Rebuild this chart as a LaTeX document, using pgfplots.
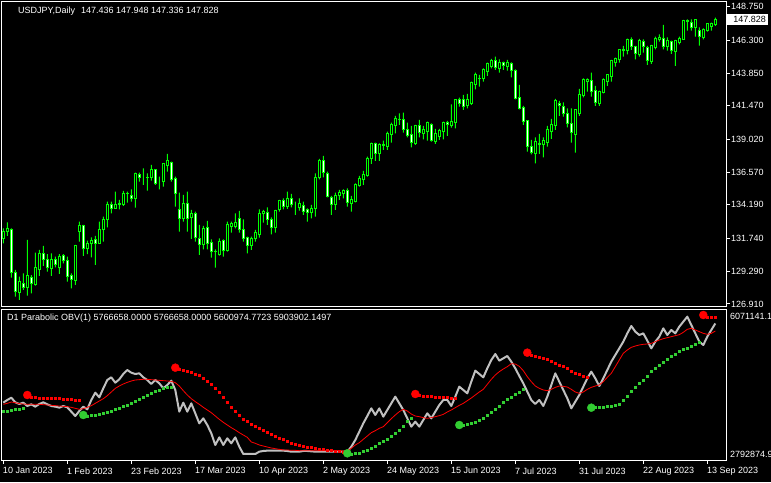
\documentclass[border=0pt]{standalone}
\usepackage{pgfplots}
\pgfplotsset{compat=1.18}
\usepackage{pgfplotstable}
\usepackage{fontspec}
\setmainfont{Liberation Sans}
\definecolor{cg}{RGB}{0,255,0}
\definecolor{obvgray}{RGB}{192,192,192}
\definecolor{sarred}{RGB}{255,0,0}
\definecolor{sargreen}{RGB}{50,205,50}

\pgfplotstableread{
i o h l c
0 131.731 132.465 131.363 132.220
1 132.220 132.906 131.902 132.465
2 132.392 132.465 128.841 129.208
3 129.232 129.404 127.445 127.812
4 127.738 128.914 127.200 128.547
5 128.424 129.159 127.934 128.106
6 128.106 131.608 127.518 128.963
7 128.865 129.036 127.689 128.375
8 128.302 130.677 128.253 129.600
9 129.453 130.873 128.963 130.628
10 130.628 131.167 129.698 130.188
11 130.188 130.579 129.281 129.575
12 129.477 130.628 128.963 130.188
13 130.188 130.384 129.600 129.771
14 129.575 130.579 129.110 130.384
15 130.433 130.579 129.894 130.090
16 130.065 130.384 128.547 128.914
17 128.963 129.159 128.057 128.669
18 128.620 131.241 128.302 131.167
19 132.220 132.955 131.486 132.637
20 132.637 132.710 130.433 130.996
21 130.996 131.559 130.579 131.363
22 131.363 131.804 130.335 131.559
23 131.608 131.902 129.771 131.363
24 131.363 132.955 131.363 132.392
25 132.392 133.323 131.486 133.078
26 133.078 134.425 132.539 134.180
27 134.180 134.425 133.568 133.886
28 133.886 135.159 133.886 134.180
29 134.180 134.547 133.861 134.253
30 134.180 135.208 134.106 134.988
31 134.988 135.159 134.351 135.037
32 134.841 135.331 134.425 134.645
33 134.621 136.556 133.984 136.458
34 136.384 136.556 135.894 136.213
35 136.213 136.874 135.649 136.213
36 136.213 136.507 135.233 136.190
37 136.213 137.119 135.968 136.751
38 136.751 136.800 135.649 135.723
39 135.894 136.262 135.331 135.894
40 135.894 137.241 135.527 137.192
41 137.070 137.927 136.629 137.413
42 137.315 137.364 135.894 136.017
43 136.139 136.262 134.057 135.037
44 133.861 135.086 132.220 133.151
45 133.151 134.915 132.955 134.253
46 134.254 135.160 132.221 133.201
47 133.250 133.813 131.682 133.568
48 133.568 133.690 131.486 131.805
49 131.731 132.711 130.506 131.241
50 131.241 132.637 130.923 132.466
51 132.515 133.005 130.923 131.315
52 131.413 131.658 130.311 130.751
53 130.751 130.923 129.576 130.740
54 130.555 131.731 130.457 131.486
55 131.535 131.658 130.384 130.800
56 130.800 132.956 130.751 132.711
57 132.588 132.956 132.147 132.784
58 132.588 133.568 132.466 132.882
59 133.201 133.739 132.147 132.392
60 132.392 133.127 131.486 131.731
61 131.780 131.854 130.629 131.192
62 131.192 131.853 130.874 131.682
63 131.682 132.343 131.486 132.172
64 132.025 133.862 131.780 133.568
65 133.519 133.813 132.882 133.690
66 133.641 134.009 132.711 133.127
67 133.127 133.274 132.025 132.515
68 132.515 133.813 132.147 133.739
69 133.862 134.548 133.690 134.474
70 134.474 134.670 133.862 134.058
71 134.058 135.160 133.886 134.670
72 134.670 134.988 134.009 134.229
73 134.131 134.425 133.445 134.131
74 134.009 134.670 133.764 134.254
75 134.131 134.425 133.445 133.690
76 133.813 133.935 132.956 133.617
77 133.617 134.180 133.201 133.935
78 133.935 136.507 133.323 136.189
79 136.189 137.560 136.066 137.413
80 137.438 137.781 136.213 136.556
81 136.507 136.629 134.744 134.793
82 134.719 134.842 133.445 134.229
83 134.229 135.086 133.813 134.842
84 134.842 135.282 134.548 135.111
85 134.988 135.331 134.670 135.209
86 135.209 135.405 134.058 134.376
87 134.303 134.842 133.690 134.548
88 134.425 135.772 134.376 135.699
89 135.601 136.311 135.527 136.091
90 136.066 136.678 135.650 136.385
91 136.336 137.732 136.262 137.609
92 137.609 138.760 137.193 138.711
93 138.711 138.760 137.413 137.976
94 137.976 138.711 137.413 138.589
95 138.589 138.907 138.221 138.540
96 138.466 139.568 138.221 139.446
97 139.324 140.230 138.760 140.058
98 139.985 140.720 139.446 140.548
99 140.426 140.916 140.058 140.450
100 140.426 140.965 139.495 139.691
101 139.740 140.230 139.152 139.250
102 139.324 139.985 138.417 138.760
103 138.711 140.058 138.589 139.985
104 139.985 140.426 139.152 139.495
105 139.446 139.985 139.005 139.691
106 139.568 140.303 138.907 140.230
107 140.058 140.181 138.834 138.907
108 138.834 139.764 138.662 139.397
109 139.201 139.764 138.956 139.617
110 139.568 140.303 139.005 140.230
111 140.230 140.352 139.250 140.058
112 139.985 141.577 139.862 140.303
113 140.230 141.944 139.813 141.895
114 141.944 142.067 141.405 141.601
115 141.895 142.263 141.160 141.405
116 141.454 142.336 141.283 141.895
117 141.650 143.242 141.528 143.169
118 143.046 143.904 142.679 143.732
119 143.487 143.732 142.875 143.490
120 143.487 144.222 143.242 144.099
121 143.977 144.638 143.659 144.540
122 144.344 144.908 144.222 144.761
123 144.761 145.079 144.099 144.295
124 144.222 144.883 143.904 144.663
125 144.663 144.712 144.099 144.418
126 144.344 144.834 144.050 144.663
127 144.540 144.663 143.561 144.050
128 144.050 144.148 141.944 142.018
129 142.091 142.997 141.209 141.283
130 141.332 141.454 140.058 140.303
131 140.352 140.377 138.099 138.466
132 138.466 138.956 137.903 138.025
133 137.976 139.152 137.242 138.834
134 138.638 139.397 137.927 138.711
135 138.638 139.152 137.683 138.883
136 138.760 139.985 138.466 139.691
137 139.568 140.499 139.030 140.058
138 140.009 141.969 139.691 141.822
139 141.650 141.822 140.720 141.479
140 141.405 141.724 140.671 140.866
141 140.915 141.283 139.887 140.181
142 140.181 141.283 138.760 139.495
143 139.373 141.209 138.025 141.160
144 140.915 142.703 140.720 142.263
145 142.189 143.487 142.091 143.365
146 143.242 143.487 142.507 143.365
147 143.291 143.904 142.140 142.507
148 142.556 142.924 141.454 141.699
149 141.601 142.581 141.454 142.507
150 142.434 143.487 142.385 143.365
151 143.242 143.732 142.924 143.732
152 143.610 144.834 143.242 144.761
153 144.638 145.006 144.344 144.957
154 144.883 145.569 144.638 145.569
155 145.569 145.863 145.079 145.550
156 145.520 146.402 145.251 146.353
157 146.304 146.500 145.569 145.814
158 145.814 145.863 144.883 145.275
159 145.251 146.377 145.079 146.230
160 146.181 146.353 145.373 145.814
161 145.740 145.863 144.467 144.785
162 144.712 145.936 144.540 145.863
163 145.765 146.549 145.618 146.426
164 146.304 146.720 146.181 146.475
165 146.426 147.406 145.618 145.814
166 145.814 146.500 145.520 146.230
167 146.181 146.255 145.275 145.520
168 145.446 146.304 144.393 146.230
169 146.108 146.549 145.985 146.426
170 146.304 147.773 146.304 147.700
171 147.700 147.822 146.989 147.680
172 147.602 147.822 146.989 147.210
173 147.210 147.822 146.549 147.773
174 146.965 147.234 145.887 146.549
175 146.475 147.161 146.353 147.038
176 146.989 147.528 146.916 147.479
177 147.283 147.577 146.989 147.479
178 147.436 147.948 147.336 147.828
}\candles

\pgfplotstableread{
i obv ma
0 4041.8 4005.5
1 4099.9 4027.3
2 4150.7 4056.3
3 4049.0 4041.8
4 4012.7 4020.0
5 4041.8 4012.7
6 3969.2 4005.5
7 4005.5 4005.5
8 3954.6 4005.5
9 4012.7 4005.5
10 4049.0 3998.2
11 4005.5 3991.0
12 3969.2 3983.7
13 3954.6 3976.4
14 3932.8 3969.2
15 3969.2 3961.9
16 3940.1 3954.6
17 3845.7 3940.1
18 3751.3 3918.3
19 3860.2 3896.5
20 3954.6 3911.1
21 3896.5 3940.1
22 4099.9 3976.4
23 4259.6 4027.3
24 4157.9 4078.1
25 4354.0 4128.9
26 4535.5 4194.3
27 4593.6 4274.1
28 4477.4 4354.0
29 4550.0 4404.8
30 4666.2 4448.4
31 4753.3 4484.7
32 4695.2 4513.7
33 4666.2 4535.5
34 4680.7 4542.7
35 4593.6 4550.0
36 4535.5 4550.0
37 4448.4 4542.7
38 4535.5 4535.5
39 4462.9 4528.2
40 4354.0 4521.0
41 4426.6 4513.7
42 4521.0 4506.5
43 4317.7 4477.4
44 3845.7 4404.8
45 4041.8 4303.2
46 3845.7 4208.8
47 4027.3 4128.9
48 3809.4 4063.6
49 3591.6 4005.5
50 3700.5 3940.1
51 3555.3 3882.0
52 3373.8 3823.9
53 3119.7 3751.3
54 3286.7 3678.7
55 3119.7 3613.4
56 3264.9 3555.3
57 3156.0 3497.3
58 3286.7 3446.4
59 3083.4 3388.3
60 2923.6 3337.5
61 2923.6 3286.7
62 2923.6 3185.0
63 2923.6 3156.0
64 2974.5 3119.7
65 2989.0 3097.9
66 2996.3 3076.2
67 2996.3 3054.4
68 2996.3 3039.8
69 2996.3 3025.3
70 2996.3 3010.8
71 2989.0 3010.8
72 2974.5 3003.6
73 2974.5 3003.6
74 2974.5 2996.3
75 2989.0 2996.3
76 2989.0 2996.3
77 2981.8 2996.3
78 2974.5 2996.3
79 2974.5 2996.3
80 2974.5 2996.3
81 2974.5 2996.3
82 2974.5 2996.3
83 2974.5 2996.3
84 2974.5 2996.3
85 2974.5 2989.0
86 2974.5 2996.3
87 3083.4 3047.1
88 3228.6 3119.7
89 3410.1 3170.5
90 3591.6 3243.1
91 3751.3 3315.7
92 3918.3 3388.3
93 3773.1 3431.9
94 3918.3 3482.7
95 3736.8 3519.0
96 3882.0 3606.2
97 4027.3 3693.3
98 4172.5 3773.1
99 4027.3 3845.7
100 3882.0 3896.5
101 3700.5 3860.2
102 3519.0 3794.9
103 3627.9 3751.3
104 3519.0 3736.8
105 3664.2 3715.1
106 3809.4 3700.5
107 3700.5 3715.1
108 3845.7 3736.8
109 3991.0 3758.6
110 4099.9 3787.6
111 4099.9 3838.5
112 3969.2 3882.0
113 4172.5 3932.8
114 4390.3 3983.7
115 4317.7 4027.3
116 4245.1 4085.3
117 4499.2 4143.4
118 4738.8 4208.8
119 4666.2 4274.1
120 4593.6 4332.2
121 4789.6 4441.1
122 4971.1 4550.0
123 5101.8 4644.4
124 4956.6 4717.0
125 5007.5 4775.1
126 5058.3 4825.9
127 4934.8 4891.3
128 4789.6 4884.0
129 4622.6 4833.2
130 4462.9 4738.8
131 4281.4 4608.1
132 4099.9 4499.2
133 4012.7 4404.8
134 4099.9 4354.0
135 3969.2 4317.7
136 4172.5 4303.2
137 4426.6 4332.2
138 4680.7 4375.8
139 4499.2 4404.8
140 4317.7 4397.5
141 4136.2 4383.0
142 3918.3 4332.2
143 4063.6 4274.1
144 4208.8 4245.1
145 4390.3 4274.1
146 4571.8 4332.2
147 4717.0 4375.8
148 4571.8 4404.8
149 4404.8 4426.6
150 4571.8 4499.2
151 4753.3 4593.6
152 4934.8 4680.7
153 5080.1 4825.9
154 5225.3 4971.1
155 5370.5 5116.4
156 5552.0 5189.0
157 5711.7 5247.1
158 5588.3 5276.1
159 5515.7 5297.9
160 5552.0 5312.4
161 5392.3 5319.7
162 5225.3 5334.2
163 5370.5 5370.5
164 5479.4 5406.8
165 5660.9 5435.9
166 5515.7 5457.6
167 5624.6 5479.4
168 5552.0 5501.2
169 5697.2 5523.0
170 5806.1 5573.8
171 5915.0 5639.2
172 5733.5 5660.9
173 5552.0 5624.6
174 5370.5 5588.3
175 5297.9 5552.0
176 5479.4 5530.2
177 5624.6 5552.0
178 5766.7 5601.0
}\ind

\begin{document}
\begin{tikzpicture}[x=1pt,y=1pt]
\useasboundingbox (0pt,0pt) rectangle (771pt,482pt);
\fill[black] (0pt,0pt) rectangle (771pt,482pt);
\pgfplotsset{
  mt/.style={scale only axis, width=724pt, xmin=-0.325, xmax=180.675,
    anchor=south west, axis line style={white, line width=1pt},
    tick style={white, line width=1pt}, tick align=outside,
    major tick length=4pt,
    every tick label/.append style={font=\fontsize{9}{10}\selectfont, text=white}},
}
% ---------- top: wicks + frame ----------
\begin{axis}[mt, at={(2pt,175pt)}, height=305pt, ymin=126.685, ymax=149.095,
  xtick=\empty, ytick pos=right,
  ytick={126.91,129.29,131.74,134.19,136.57,139.02,141.47,143.85,146.30,148.75},
  yticklabels={126.910,129.290,131.740,134.190,136.570,139.020,141.470,143.850,146.300,148.750},
  yticklabel style={anchor=west, inner sep=0pt, xshift=1pt},
  ybar stacked, bar width=1pt]
\addplot[draw=none, fill=none, forget plot] table[x=i, y=l] {\candles};
\addplot[draw=none, fill=cg] table[x=i, y expr=\thisrow{h}-\thisrow{l}] {\candles};
\end{axis}
% ---------- top: bodies ----------
\begin{axis}[mt, at={(2pt,175pt)}, height=305pt, ymin=126.685, ymax=149.095,
  hide axis, ybar stacked, bar width=2pt]
\addplot[draw=none, fill=none, forget plot] table[x=i, y expr={min(\thisrow{o},\thisrow{c})}] {\candles};
\addplot[draw=cg, fill=black, line width=1pt] table[x=i, y expr={max(\thisrow{c}-\thisrow{o},0)}] {\candles};
\addplot[draw=cg, fill=white, line width=1pt] table[x=i, y expr={max(\thisrow{o}-\thisrow{c},0)}] {\candles};
\end{axis}
% ---------- bottom: indicator ----------
\begin{axis}[mt, at={(2pt,22pt)}, height=150.5pt, ymin=2792.8749, ymax=6071.1411,
  ytick=\empty, xtick pos=bottom,
  xtick={0,16,32,48,64,80,96,112,128,144,160,176},
  xticklabels={10 Jan 2023,1 Feb 2023,23 Feb 2023,17 Mar 2023,10 Apr 2023,2 May 2023,24 May 2023,15 Jun 2023,7 Jul 2023,31 Jul 2023,22 Aug 2023,13 Sep 2023},
  xticklabel style={anchor=north west, inner sep=0pt, xshift=-0.5pt, yshift=-3.5pt}]
\addplot[obvgray, line width=2pt, line join=round] table[x=i, y=obv] {\ind};
\addplot[sarred, line width=0.8pt] table[x=i, y=ma] {\ind};
\addplot[only marks, mark=square*, mark size=1pt, color=sarred] coordinates {
(6,4208.8)(7,4157.9)(8,4150.7)(9,4143.4)(10,4143.4)(11,4136.2)(12,4136.2)(13,4128.9)(14,4128.9)(15,4121.6)(16,4114.4)(17,4107.1)(18,4099.9)(19,4085.3)
(43,4804.1)(44,4767.8)(45,4753.3)(46,4731.5)(47,4695.2)(48,4666.2)(49,4629.9)(50,4571.8)(51,4513.7)(52,4448.4)(53,4354.0)(54,4259.6)(55,4150.7)(56,4049.0)(57,3940.1)(58,3845.7)(59,3758.6)(60,3686.0)(61,3627.9)(62,3577.0)(63,3526.2)(64,3475.4)(65,3431.9)(66,3395.6)(67,3359.3)(68,3315.7)(69,3272.2)(70,3235.9)(71,3199.6)(72,3163.3)(73,3141.5)(74,3119.7)(75,3097.9)(76,3076.2)(77,3061.6)(78,3047.1)(79,3032.6)(80,3018.1)(81,3003.6)(82,2996.3)(83,2981.8)(84,2974.5)(85,2967.2)
(103,4230.6)(104,4194.3)(105,4179.7)(106,4172.5)(107,4172.5)(108,4165.2)(109,4157.9)(110,4157.9)(111,4150.7)(112,4143.4)(113,4136.2)
(131,5130.9)(132,5072.8)(133,5051.0)(134,5029.3)(135,5007.5)(136,4978.4)(137,4942.1)(138,4905.8)(139,4862.2)(140,4825.9)(141,4782.3)(142,4731.5)(143,4688.0)(144,4651.7)(145,4622.6)(146,4593.6)
(175,5951.3)(176,5904.0)(177,5904.0)(178,5903.9)};
\addplot[only marks, mark=square*, mark size=1pt, color=sargreen] coordinates {
(0,3845.7)(1,3860.2)(2,3874.8)(3,3889.3)(4,3903.8)(5,3918.3)
(20,3773.1)(21,3751.3)(22,3758.6)(23,3765.9)(24,3787.6)(25,3809.4)(26,3831.2)(27,3860.2)(28,3889.3)(29,3918.3)(30,3954.6)(31,3983.7)(32,4020.0)(33,4063.6)(34,4107.1)(35,4150.7)(36,4194.3)(37,4245.1)(38,4281.4)(39,4317.7)(40,4354.0)(41,4368.5)(42,4368.5)
(86,2938.2)(87,2923.6)(88,2930.9)(89,2945.4)(90,2974.5)(91,3010.8)(92,3054.4)(93,3097.9)(94,3148.7)(95,3192.3)(96,3243.1)(97,3301.2)(98,3366.5)(99,3446.4)(100,3533.5)(101,3627.9)(102,3700.5)
(114,3555.3)(115,3548.0)(116,3562.5)(117,3584.3)(118,3620.6)(119,3656.9)(120,3700.5)(121,3758.6)(122,3823.9)(123,3896.5)(124,3969.2)(125,4041.8)(126,4114.4)(127,4157.9)(128,4216.0)(129,4274.1)(130,4332.2)
(147,3932.8)(148,3932.8)(149,3940.1)(150,3947.4)(151,3954.6)(152,3961.9)(153,3976.4)(154,4005.5)(155,4085.3)(156,4187.0)(157,4295.9)(158,4383.0)(159,4462.9)(160,4535.5)(161,4622.6)(162,4717.0)(163,4789.6)(164,4854.9)(165,4920.3)(166,4978.4)(167,5043.8)(168,5101.8)(169,5152.6)(170,5196.2)(171,5232.5)(172,5276.1)(173,5319.7)(174,5356.0)};
\addplot[only marks, mark=*, mark size=4pt, color=sarred] coordinates {(6,4208.8)(43,4804.1)(103,4230.6)(131,5130.9)(175,5951.3)};
\addplot[only marks, mark=*, mark size=4pt, color=sargreen] coordinates {(20,3773.1)(86,2938.2)(114,3555.3)(147,3932.8)};
\end{axis}
% ---------- texts ----------
\node[anchor=west, inner sep=0pt, text=white, font=\fontsize{9}{10}\selectfont] at (18pt,471pt) {USDJPY,Daily\hspace{6pt}147.436 147.948 147.336 147.828};
\node[anchor=west, inner sep=0pt, text=white, font=\fontsize{9}{10}\selectfont] at (7pt,164pt) {D1 Parabolic OBV(1) 5766658.0000 5766658.0000 5600974.7723 5903902.1497};
\node[anchor=west, inner sep=0pt, text=white, font=\fontsize{9}{10}\selectfont] at (730pt,166pt) {6071141.1};
\node[anchor=west, inner sep=0pt, text=white, font=\fontsize{9}{10}\selectfont] at (730pt,28pt) {2792874.9};
\node[anchor=west, fill=white, text=black, inner xsep=0pt, minimum width=41pt, minimum height=10.5pt, inner ysep=0pt, font=\fontsize{9}{10}\selectfont, align=left] at (727pt,462.5pt) {\hspace{4pt}147.828\hfill};
\end{tikzpicture}
\end{document}
